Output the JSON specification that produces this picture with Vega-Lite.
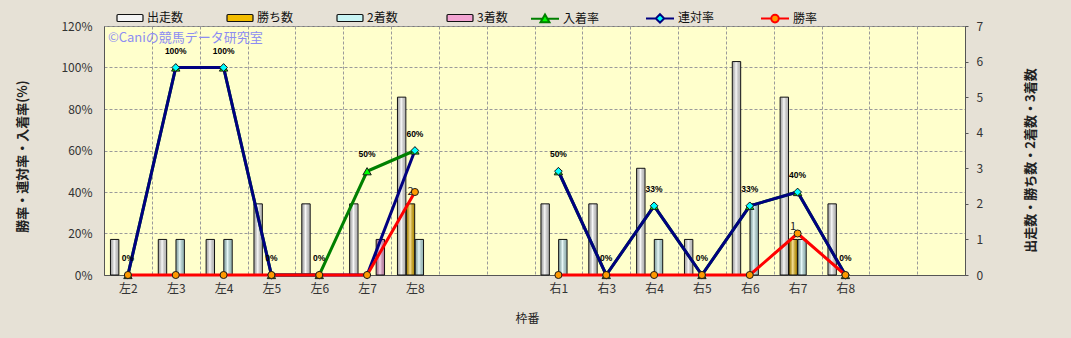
{
  "$schema": "https://vega.github.io/schema/vega-lite/v6.json",
  "width": 861,
  "height": 249,
  "autosize": {"type": "none"},
  "padding": {"left": 104, "top": 26, "right": 106, "bottom": 63},
  "background": "#e6e1d6",
  "config": {
    "font": "Noto Sans CJK JP",
    "view": {"fill": "#ffffcc", "stroke": "#7a7a7a", "strokeWidth": 1},
    "axis": {
      "labelFont": "Noto Sans CJK JP",
      "titleFont": "Noto Sans CJK JP",
      "labelColor": "#333333",
      "titleColor": "#222222",
      "domainColor": "#555555",
      "tickColor": "#555555",
      "gridColor": "#9a9a9a",
      "gridDash": [3, 2],
      "gridWidth": 1
    },
    "legend": {"labelFont": "Noto Sans CJK JP", "labelFontSize": 12, "labelColor": "#111111"}
  },
  "datasets": {
    "waku": [
      {"枠": "左2", "出走数": 1, "勝ち数": 0, "2着数": 0, "3着数": 0, "勝率": 0, "連対率": 0, "入着率": 0},
      {"枠": "左3", "出走数": 1, "勝ち数": 0, "2着数": 1, "3着数": 0, "勝率": 0, "連対率": 1, "入着率": 1},
      {"枠": "左4", "出走数": 1, "勝ち数": 0, "2着数": 1, "3着数": 0, "勝率": 0, "連対率": 1, "入着率": 1},
      {"枠": "左5", "出走数": 2, "勝ち数": 0, "2着数": 0, "3着数": 0, "勝率": 0, "連対率": 0, "入着率": 0},
      {"枠": "左6", "出走数": 2, "勝ち数": 0, "2着数": 0, "3着数": 0, "勝率": 0, "連対率": 0, "入着率": 0},
      {"枠": "左7", "出走数": 2, "勝ち数": 0, "2着数": 0, "3着数": 1, "勝率": 0, "連対率": 0, "入着率": 0.5},
      {"枠": "左8", "出走数": 5, "勝ち数": 2, "2着数": 1, "3着数": 0, "勝率": 0.4, "連対率": 0.6, "入着率": 0.6},
      {"枠": "右1", "出走数": 2, "勝ち数": 0, "2着数": 1, "3着数": 0, "勝率": 0, "連対率": 0.5, "入着率": 0.5},
      {"枠": "右3", "出走数": 2, "勝ち数": 0, "2着数": 0, "3着数": 0, "勝率": 0, "連対率": 0, "入着率": 0},
      {"枠": "右4", "出走数": 3, "勝ち数": 0, "2着数": 1, "3着数": 0, "勝率": 0, "連対率": 0.3333, "入着率": 0.3333},
      {"枠": "右5", "出走数": 1, "勝ち数": 0, "2着数": 0, "3着数": 0, "勝率": 0, "連対率": 0, "入着率": 0},
      {"枠": "右6", "出走数": 6, "勝ち数": 0, "2着数": 2, "3着数": 0, "勝率": 0, "連対率": 0.3333, "入着率": 0.3333},
      {"枠": "右7", "出走数": 5, "勝ち数": 1, "2着数": 1, "3着数": 0, "勝率": 0.2, "連対率": 0.4, "入着率": 0.4},
      {"枠": "右8", "出走数": 2, "勝ち数": 0, "2着数": 0, "3着数": 0, "勝率": 0, "連対率": 0, "入着率": 0}
    ]
  },
  "data": {"name": "waku"},
  "encoding": {
    "x": {
      "field": "枠",
      "type": "nominal",
      "scale": {
        "domain": ["左2", "左3", "左4", "左5", "左6", "左7", "左8", " ", "  ", "右1", "右3", "右4", "右5", "右6", "右7", "右8", "   ", "    "],
        "paddingInner": 0,
        "paddingOuter": 0
      },
      "axis": {
        "title": "枠番",
        "labelAngle": 0,
        "ticks": false,
        "tickBand": "extent",
        "grid": true,
        "labelPadding": 8,
        "labelFontSize": 12,
        "titleFontSize": 12,
        "titleFontWeight": "normal",
        "titleX": 423,
        "titleY": 43,
        "titleBaseline": "middle"
      }
    }
  },
  "layer": [
    {
      "transform": [
        {"fold": ["出走数", "勝ち数", "2着数", "3着数"], "as": ["系列", "数"]},
        {"filter": "datum['数'] > 0"}
      ],
      "encoding": {
        "xOffset": {
          "field": "系列",
          "type": "nominal",
          "scale": {"domain": ["出走数", "勝ち数", "2着数", "3着数"], "paddingInner": 0.05, "paddingOuter": 0.73}
        },
        "y": {
          "field": "数",
          "type": "quantitative",
          "scale": {"domain": [0, 7], "nice": false},
          "axis": {
            "orient": "right",
            "title": "出走数・勝ち数・2着数・3着数",
            "values": [0, 1, 2, 3, 4, 5, 6, 7],
            "format": "d",
            "grid": false,
            "tickSize": 3,
            "labelPadding": 8,
            "labelFontSize": 12,
            "titleFontSize": 13,
            "titleFontWeight": "bold",
            "titleAngle": 270,
            "titleX": 65,
            "titleY": 134,
            "titleBaseline": "middle",
            "titleAlign": "center"
          }
        }
      },
      "layer": [
        {
          "mark": {"type": "bar"},
          "encoding": {
            "fill": {
              "field": "系列",
              "type": "nominal",
              "scale": {
                "domain": ["出走数", "勝ち数", "2着数", "3着数"],
                "range": ["#f4f4f4", "#f2bc00", "#c8f4f4", "#f2a4d2"]
              },
              "legend": {
                "orient": "none",
                "legendX": 12,
                "legendY": -22,
                "direction": "horizontal",
                "title": null,
                "padding": 0,
                "symbolType": "M-0.92,-0.27H0.92Q1,-0.27 1,-0.19V0.19Q1,0.27 0.92,0.27H-0.92Q-1,0.27 -1,0.19V-0.19Q-1,-0.27 -0.92,-0.27Z",
                "symbolSize": 676,
                "symbolStrokeColor": "#111111",
                "symbolStrokeWidth": 1.2,
                "labelOffset": 3,
                "columnPadding": 40,
                "gridAlign": "all"
              }
            }
          }
        },
        {
          "mark": {
            "type": "bar",
            "stroke": "#111111",
            "strokeWidth": 1,
            "fill": {
              "gradient": "linear",
              "x1": 0, "y1": 0, "x2": 1, "y2": 0,
              "stops": [
                {"offset": 0, "color": "rgba(0,0,0,0.28)"},
                {"offset": 0.45, "color": "rgba(255,255,255,0.6)"},
                {"offset": 1, "color": "rgba(0,0,0,0.22)"}
              ]
            }
          }
        },
        {
          "transform": [{"filter": "datum['系列'] === '勝ち数'"}],
          "mark": {"type": "text", "baseline": "alphabetic", "align": "center", "dy": -9, "fontSize": 11, "color": "#222222"},
          "encoding": {"text": {"field": "数", "type": "quantitative"}}
        }
      ]
    },
    {
      "transform": [
        {"fold": ["入着率", "連対率", "勝率"], "as": ["指標", "率"]},
        {"calculate": "substring(datum['枠'], 0, 1)", "as": "側"}
      ],
      "encoding": {
        "y": {
          "field": "率",
          "type": "quantitative",
          "scale": {"domain": [0, 1.2], "nice": false},
          "axis": {
            "orient": "left",
            "title": "勝率・連対率・入着率(%)",
            "values": [0, 0.2, 0.4, 0.6, 0.8, 1, 1.2],
            "format": ".0%",
            "grid": true,
            "ticks": false,
            "labelPadding": 12,
            "labelFontSize": 12,
            "titleFontSize": 13,
            "titleFontWeight": "bold",
            "titleAngle": 270,
            "titleX": -82,
            "titleY": 130,
            "titleBaseline": "middle",
            "titleAlign": "center"
          }
        }
      },
      "layer": [
        {
          "mark": {"type": "line", "strokeWidth": 3, "strokeJoin": "round"},
          "encoding": {
            "detail": {"field": "側", "type": "nominal"},
            "stroke": {
              "field": "指標",
              "type": "nominal",
              "scale": {"domain": ["入着率", "連対率", "勝率"], "range": ["#008000", "#000080", "#ff0000"]},
              "legend": {
                "orient": "none",
                "legendX": 426,
                "legendY": -23,
                "direction": "horizontal",
                "title": null,
                "padding": 0,
                "symbolType": "M-1,0H1",
                "symbolSize": 784,
                "symbolStrokeWidth": 2,
                "labelOffset": 3,
                "columnPadding": 42,
                "gridAlign": "all",
                "encode": {
                  "symbols": {
                    "update": {
                      "shape": {"signal": "datum.value === '入着率' ? 'M-1,0H-0.17M0.17,0H1M0,-0.3L0.32,0.26L-0.32,0.26Z' : datum.value === '連対率' ? 'M-1,0H-0.3M0.3,0H1M0,-0.3L0.3,0L0,0.3L-0.3,0Z' : 'M-1,0H-0.27M0.27,0H1M-0.27,0A0.27,0.27 0 1,0 0.27,0A0.27,0.27 0 1,0 -0.27,0Z'"},
                      "fill": {"signal": "datum.value === '入着率' ? '#00ff00' : datum.value === '連対率' ? '#00ffff' : '#ff9900'"},
                      "fillOpacity": {"value": 1}
                    }
                  }
                }
              }
            }
          }
        },
        {
          "transform": [{"filter": "datum['指標'] === '入着率'"}],
          "mark": {"type": "point", "shape": "triangle-up", "filled": true, "fill": "#00ff00", "stroke": "#1a1a1a", "strokeWidth": 1, "size": 70, "opacity": 1}
        },
        {
          "transform": [{"filter": "datum['指標'] === '連対率'"}],
          "mark": {"type": "point", "shape": "diamond", "filled": true, "fill": "#00ffff", "stroke": "#1a1a1a", "strokeWidth": 1, "size": 60, "opacity": 1}
        },
        {
          "transform": [{"filter": "datum['指標'] === '勝率'"}],
          "mark": {"type": "point", "shape": "circle", "filled": true, "fill": "#ff9900", "stroke": "#1a1a1a", "strokeWidth": 1, "size": 50, "opacity": 1}
        },
        {
          "transform": [{"filter": "datum['指標'] === '入着率'"}],
          "mark": {"type": "text", "dy": -17, "baseline": "middle", "align": "center", "font": "Liberation Sans", "fontWeight": "bold", "fontSize": 8.5, "color": "#000000"},
          "encoding": {"text": {"field": "率", "type": "quantitative", "format": ".0%"}}
        },
        {
          "transform": [{"filter": "datum['枠'] === '左2' && datum['指標'] === '入着率'"}],
          "mark": {"type": "text", "text": "©Caniの競馬データ研究室", "align": "left", "baseline": "middle", "dx": -20, "fontSize": 13, "color": "#8d8df2"},
          "encoding": {
            "y": {"datum": 1.14}
          }
        }
      ]
    }
  ],
  "resolve": {
    "scale": {"y": "independent", "fill": "independent"},
    "axis": {"y": "independent"}
  }
}
